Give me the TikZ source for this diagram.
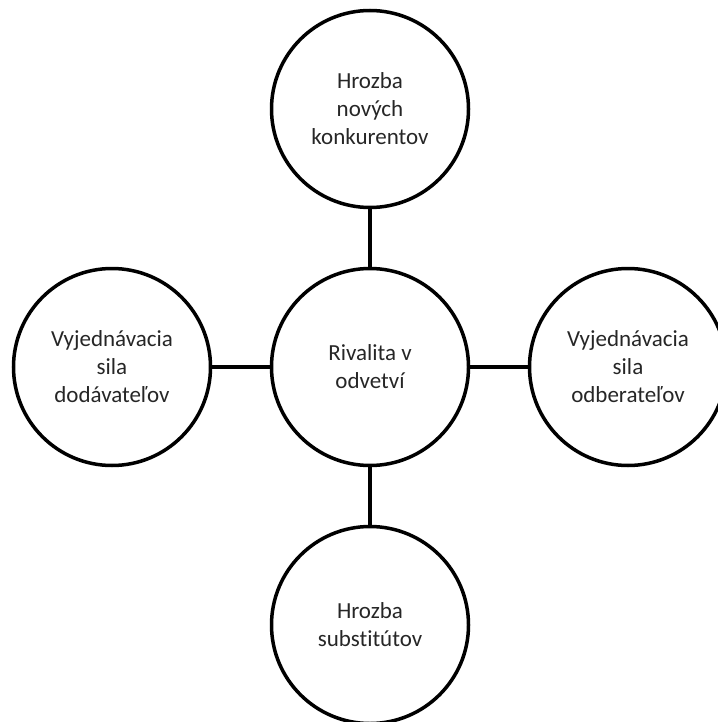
\documentclass[tikz,border=0pt]{standalone}
\usepackage{fontspec}
\setmainfont{Carlito}[Ligatures={NoCommon}]
\begin{document}
\begin{tikzpicture}[x=1pt,y=-1pt,
  force/.style={circle, draw=black, line width=3.5pt, minimum size=197pt, inner sep=0pt,
    align=center, font=\fontsize{23}{28}\selectfont, text=black!85},
  link/.style={draw=black, line width=3.5pt}]
\useasboundingbox (0,0) rectangle (717,722);
\node[force] (c) at (370,367) {Rivalita v\\odvetví};
\node[force] (t) at (370,109) {Hrozba\\nových\\konkurentov};
\node[force] (l) at (112,367) {Vyjednávacia\\sila\\dodávateľov};
\node[force] (r) at (628,367) {Vyjednávacia\\sila\\odberateľov};
\node[force] (b) at (370,625) {Hrozba\\substitútov};
\draw[link] (c) -- (t);
\draw[link] (c) -- (l);
\draw[link] (c) -- (r);
\draw[link] (c) -- (b);
\end{tikzpicture}
\end{document}
